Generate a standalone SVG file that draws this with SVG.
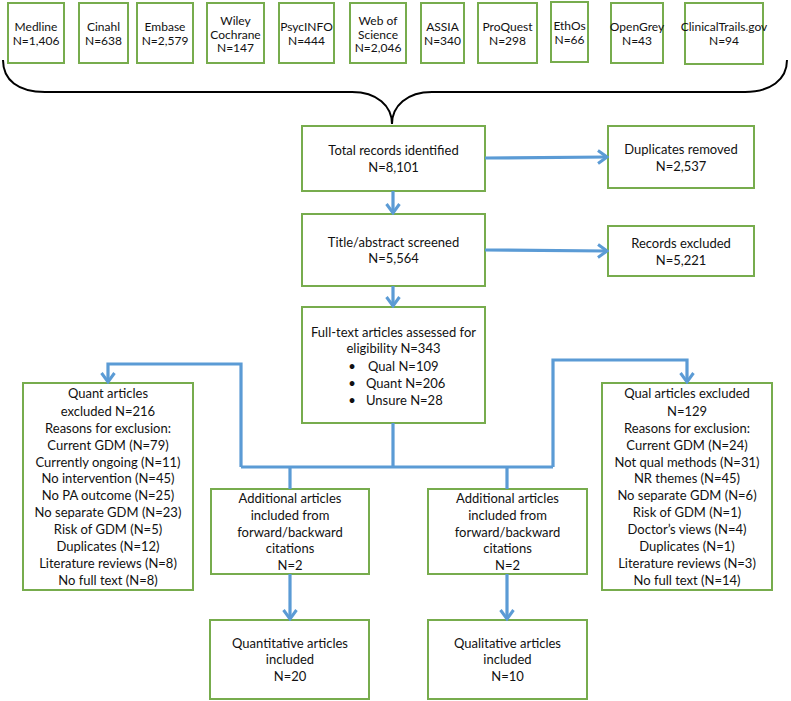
<svg xmlns="http://www.w3.org/2000/svg" width="791" height="701" viewBox="0 0 791 701">
<style>
.box{fill:#fff;stroke:#77ac4d;stroke-width:2}
text{font-family:Lato,"Liberation Sans",sans-serif;font-size:13px;fill:#111;text-anchor:middle}
.s{font-size:12px}
.l{text-anchor:start}
.c{fill:none;stroke:#5b9bd5;stroke-width:3.2}
.brace{fill:none;stroke:#000;stroke-width:2}
</style>
<defs>
<marker id="ah" markerUnits="userSpaceOnUse" viewBox="0 0 14 16" markerWidth="14" markerHeight="16" refX="12" refY="8" orient="auto">
<path d="M3,1.5 L12,8 L3,14.5" fill="none" stroke="#5b9bd5" stroke-width="3"/>
</marker>
</defs>
<rect width="791" height="701" fill="#fff"/>
<g id="db-medline"><rect class="box" x="8" y="3" width="56" height="60"/><text class="s" x="36" y="31">Medline</text><text class="s" x="36" y="45">N=1,406</text></g>
<g id="db-cinahl"><rect class="box" x="79" y="3" width="49" height="60"/><text class="s" x="103.5" y="31">Cinahl</text><text class="s" x="103.5" y="45">N=638</text></g>
<g id="db-embase"><rect class="box" x="137" y="3" width="56" height="60"/><text class="s" x="165" y="31">Embase</text><text class="s" x="165" y="45">N=2,579</text></g>
<g id="db-wiley"><rect class="box" x="207" y="3" width="57" height="60"/><text class="s" x="235.5" y="25">Wiley</text><text class="s" x="235.5" y="38.5">Cochrane</text><text class="s" x="235.5" y="52">N=147</text></g>
<g id="db-psycinfo"><rect class="box" x="279" y="3" width="55" height="60"/><text class="s" x="306.5" y="31">PsycINFO</text><text class="s" x="306.5" y="45">N=444</text></g>
<g id="db-wos"><rect class="box" x="350" y="3" width="56" height="60"/><text class="s" x="378" y="25">Web of</text><text class="s" x="378" y="38.5">Science</text><text class="s" x="378" y="52">N=2,046</text></g>
<g id="db-assia"><rect class="box" x="421" y="3" width="43" height="60"/><text class="s" x="442.5" y="31">ASSIA</text><text class="s" x="442.5" y="45">N=340</text></g>
<g id="db-proquest"><rect class="box" x="478" y="3" width="59" height="60"/><text class="s" x="507.5" y="31">ProQuest</text><text class="s" x="507.5" y="45">N=298</text></g>
<g id="db-ethos"><rect class="box" x="551" y="2" width="37" height="60"/><text class="s" x="569.5" y="30">EthOs</text><text class="s" x="569.5" y="44">N=66</text></g>
<g id="db-opengrey"><rect class="box" x="611" y="3" width="52" height="60"/><text class="s" x="637" y="31">OpenGrey</text><text class="s" x="637" y="45">N=43</text></g>
<g id="db-clinicaltrials"><rect class="box" x="685" y="3" width="78" height="61"/><text class="s" x="724" y="31">ClinicalTrails.gov</text><text class="s" x="724" y="45">N=94</text></g>

<g id="brace"><path class="brace" d="M3,60 C3,80 18,92 45,92 L352,92 C377,92 392,106 392,124 C392,106 407,92 432,92 L745,92 C770,92 787,80 787,60"/></g>

<g id="total"><rect class="box" x="302" y="126" width="183" height="65"/><text x="393.5" y="155">Total records identified</text><text x="393.5" y="172">N=8,101</text></g>
<g id="duplicates"><rect class="box" x="608" y="126" width="146" height="62"/><text x="681" y="154">Duplicates removed</text><text x="681" y="171">N=2,537</text></g>
<g id="screened"><rect class="box" x="302" y="214" width="183" height="72"/><text x="393.5" y="247">Title/abstract screened</text><text x="393.5" y="263">N=5,564</text></g>
<g id="excluded"><rect class="box" x="608" y="226" width="146" height="50"/><text x="681" y="248">Records excluded</text><text x="681" y="265">N=5,221</text></g>
<g id="fulltext"><rect class="box" x="302" y="307" width="183" height="116"/>
<text x="393.5" y="337">Full-text articles assessed for</text>
<text x="393.5" y="353">eligibility N=343</text>
<text x="352" y="371">•</text><text class="l" x="368" y="371">Qual N=109</text>
<text x="352" y="388">•</text><text class="l" x="366" y="388">Quant N=206</text>
<text x="352" y="405">•</text><text class="l" x="366" y="405">Unsure N=28</text></g>
<g id="quant-excluded"><rect class="box" x="23" y="383" width="170" height="207"/>
<text x="108" y="398">Quant articles</text>
<text x="108" y="415.5">excluded N=216</text>
<text x="108" y="432.5">Reasons for exclusion:</text>
<text x="108" y="449.5">Current GDM (N=79)</text>
<text x="108" y="466.5">Currently ongoing (N=11)</text>
<text x="108" y="483">No intervention (N=45)</text>
<text x="108" y="500">No PA outcome (N=25)</text>
<text x="108" y="517">No separate GDM (N=23)</text>
<text x="108" y="534">Risk of GDM (N=5)</text>
<text x="108" y="551">Duplicates (N=12)</text>
<text x="108" y="568">Literature reviews (N=8)</text>
<text x="108" y="584.5">No full text (N=8)</text></g>
<g id="qual-excluded"><rect class="box" x="602" y="383" width="170" height="207"/>
<text x="687" y="398">Qual articles excluded</text>
<text x="687" y="415.5">N=129</text>
<text x="687" y="432.5">Reasons for exclusion:</text>
<text x="687" y="449.5">Current GDM (N=24)</text>
<text x="687" y="466.5">Not qual methods (N=31)</text>
<text x="687" y="483">NR themes (N=45)</text>
<text x="687" y="500">No separate GDM (N=6)</text>
<text x="687" y="517">Risk of GDM (N=1)</text>
<text x="687" y="534">Doctor’s views (N=4)</text>
<text x="687" y="551">Duplicates (N=1)</text>
<text x="687" y="568">Literature reviews (N=3)</text>
<text x="687" y="584.5">No full text (N=14)</text></g>
<g id="additional-quant"><rect class="box" x="211" y="489" width="158" height="85"/>
<text x="290" y="503">Additional articles</text>
<text x="290" y="520">included from</text>
<text x="290" y="537">forward/backward</text>
<text x="290" y="553">citations</text>
<text x="290" y="570">N=2</text></g>
<g id="additional-qual"><rect class="box" x="428" y="489" width="159" height="85"/>
<text x="507.5" y="503">Additional articles</text>
<text x="507.5" y="520">included from</text>
<text x="507.5" y="537">forward/backward</text>
<text x="507.5" y="553">citations</text>
<text x="507.5" y="570">N=2</text></g>
<g id="quant-included"><rect class="box" x="210" y="620" width="159" height="79"/>
<text x="290" y="647.5">Quantitative articles</text>
<text x="290" y="664">included</text>
<text x="290" y="681">N=20</text></g>
<g id="qual-included"><rect class="box" x="428" y="620" width="159" height="79"/>
<text x="507.5" y="647.5">Qualitative articles</text>
<text x="507.5" y="664">included</text>
<text x="507.5" y="681">N=10</text></g>

<g id="connectors">
<path class="c" d="M485,158 L607,157" marker-end="url(#ah)"/>
<path class="c" d="M485,250 L607,251" marker-end="url(#ah)"/>
<path class="c" d="M393,191 V213" marker-end="url(#ah)"/>
<path class="c" d="M393,286 V306" marker-end="url(#ah)"/>
<path class="c" d="M393,423 V467 M241,467 H553"/>
<path class="c" d="M241,467 V364 H108 V382" marker-end="url(#ah)"/>
<path class="c" d="M553,467 V360 H687 V382" marker-end="url(#ah)"/>
<path class="c" d="M290,467 V489 M507,467 V489"/>
<path class="c" d="M290,574 V619" marker-end="url(#ah)"/>
<path class="c" d="M507,574 V619" marker-end="url(#ah)"/>
</g>
</svg>
